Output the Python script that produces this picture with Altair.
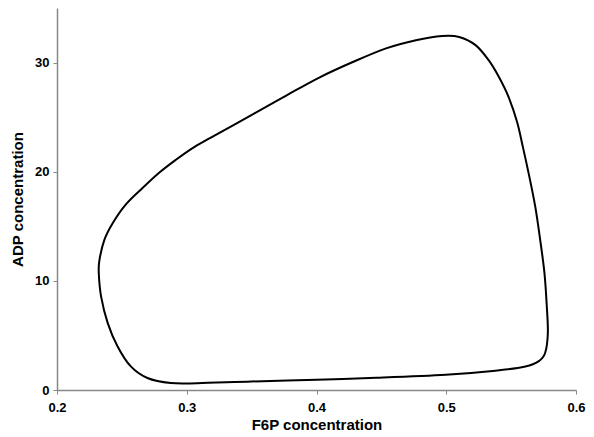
import altair as alt
import pandas as pd

# Limit cycle (clockwise, starting at the leftmost point)
f6p = [0.2322, 0.2327, 0.2365, 0.2429, 0.2531, 0.2659, 0.2787, 0.2914, 0.3042,
       0.3182, 0.3515, 0.3770, 0.4025, 0.4280, 0.4536, 0.4766, 0.4970,
       0.5100, 0.5226, 0.5328, 0.5405, 0.5480, 0.5546, 0.5590, 0.5635, 0.5686,
       0.5724, 0.5757, 0.5775, 0.5783, 0.5762, 0.5711, 0.5610, 0.5379, 0.4996,
       0.4460, 0.4000, 0.3500, 0.3080, 0.2876, 0.2697, 0.2569, 0.2467, 0.2391,
       0.2340]
adp = [10.7, 11.9, 13.75, 15.28, 17.0, 18.5, 19.9, 21.07, 22.14,
       23.1, 25.3, 27.0, 28.65, 30.05, 31.3, 32.05, 32.44,
       32.35, 31.6, 30.2, 28.7, 26.86, 24.55, 22.3, 19.85, 16.8,
       13.75, 10.7, 7.65, 5.2, 3.39, 2.62, 2.16, 1.77, 1.40,
       1.12, 0.94, 0.78, 0.62, 0.64, 1.1, 2.16, 3.99, 6.13,
       8.56]

x_ticks = [0.2, 0.3, 0.4, 0.5, 0.6]
y_ticks = [0, 10, 20, 30]

df = pd.DataFrame({"f6p": f6p, "adp": adp, "i": list(range(len(f6p)))})

FONT = "Liberation Sans"

chart = alt.Chart(df).mark_line(
    color="black", strokeWidth=2, interpolate="cardinal-closed", tension=0
).encode(
    x=alt.X("f6p:Q", scale=alt.Scale(domain=[0.2, 0.6], nice=False, zero=False),
            axis=alt.Axis(title="F6P concentration", values=x_ticks, format=".1f",
                          labelPadding=7, titlePadding=3, labelFlush=False)),
    y=alt.Y("adp:Q", scale=alt.Scale(domain=[0, 35], nice=False),
            axis=alt.Axis(title="ADP concentration", values=y_ticks, format="d",
                          labelPadding=4, titlePadding=9, labelFlush=False)),
    order="i:Q",
).properties(
    width=519, height=382,
    padding={"left": 49, "top": 0, "right": 10, "bottom": 44},
    autosize=alt.AutoSizeParams(type="none"),
).configure_view(
    stroke=None
).configure_axis(
    grid=False,
    domainColor="#888888", domainWidth=1.5,
    tickColor="#888888", tickSize=4, tickWidth=1,
    labelFont=FONT, labelFontSize=13, labelFontWeight="bold", labelColor="black",
    titleFont=FONT, titleFontSize=15, titleFontWeight="bold", titleColor="black",
)

chart.save("out.html", embed_options={"renderer": "svg", "actions": False})
